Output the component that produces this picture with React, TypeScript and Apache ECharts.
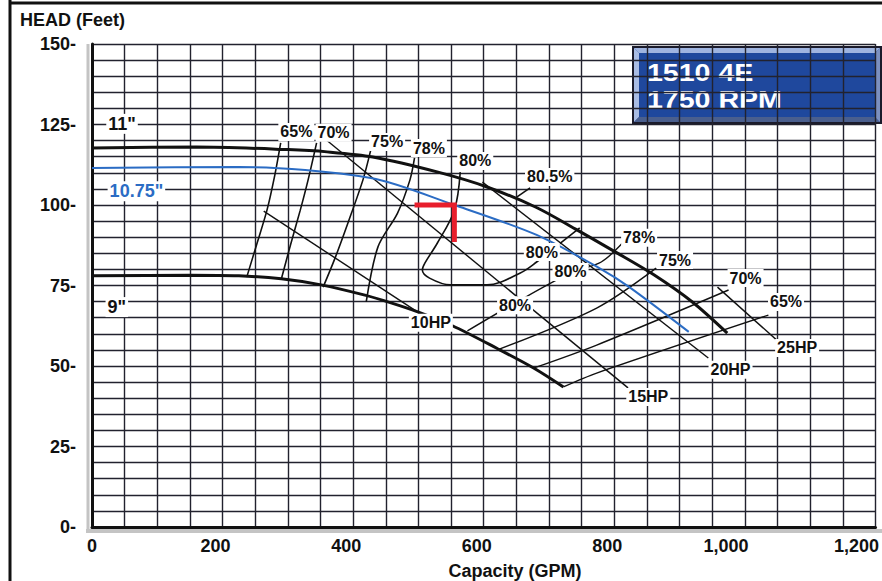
import React, { useEffect, useRef } from "react";
import * as echarts from "echarts";

// ---- data (Capacity GPM, Head ft) ----
const curve11Q = [0, 160, 300, 360, 430, 530, 605, 680, 740, 800, 860, 920, 973];
const curve11H = [117.7, 118, 117.2, 116.5, 114.9, 110.2, 105.6, 99.3, 92.6, 85.6, 78.4, 69.8, 60.2];

const curve1075Q = [0, 225, 427, 555, 681, 777, 823, 914];
const curve1075H = [111.5, 111.8, 108.4, 100, 90.7, 80.4, 74.5, 60.6];

const curve9Q = [0, 150, 225, 290, 351, 418, 458, 499, 552, 620, 677, 722];
const curve9H = [78, 78.2, 78, 77.1, 75.2, 72, 69.6, 66.8, 62.5, 55.5, 49.3, 43.5];

const eff65Q = [289, 280, 268, 252, 237];
const eff65H = [119.3, 109.3, 98.4, 87.6, 77.6];
const eff70Q = [344, 331, 319, 304, 290];
const eff70H = [119.3, 107.8, 98.4, 87.6, 77.0];
const eff75Q = [427, 415, 392, 373, 354];
const eff75H = [117.1, 107.8, 94.4, 83.9, 74.5];
const eff78Q = [494, 487, 468, 438, 420];
const eff78H = [114.6, 107.8, 97.5, 87, 69.9];
const eff80Q = [564, 555, 529, 510, 506, 517, 549, 605, 656, 681, 712, 747];
const eff80H = [110.2, 98.4, 88.2, 82, 79.8, 77.3, 75.2, 75.2, 78.9, 82.3, 87.3, 92.9];
const eff805Q = [651, 671];
const eff805H = [102.5, 105.3];

const effR78Q = [575, 651, 733, 780, 814];
const effR78H = [60.9, 69.9, 78.9, 82.3, 88.5];
const effR75Q = [621, 773, 864];
const effR75H = [55, 68, 80.4];
const effR70Q = [677, 773, 975];
const effR70H = [49.4, 56.5, 73.6];
const effR65Q = [722, 773, 1036];
const effR65H = [43.5, 47.8, 65.8];

const hp10Q = [263, 506];
const hp10H = [98.1, 65.8];
const hp15Q = [359, 821];
const hp15H = [120.2, 43.2];
const hp20Q = [598, 944];
const hp20H = [107.1, 52.5];
const hp25Q = [958, 1054];
const hp25H = [74.5, 57.1];

const dutyQ = [494, 555, 555];
const dutyH = [100, 100, 88.5];

const labelNames = ["65%", "70%", "75%", "78%", "80%", "80.5%", "80%", "80%", "80%", "78%", "75%", "70%", "65%", "10HP", "15HP", "20HP", "25HP", '11"', '10.75"', '9"'];
const labelQ = [313, 370, 452, 516, 587, 701, 689, 733, 648, 838, 893, 1001, 1063, 519, 852, 978, 1080, 46, 68, 38];
const labelH = [122.7, 122.4, 119.6, 117.7, 113.7, 108.7, 85.4, 79.2, 68.9, 89.8, 82.9, 77.3, 69.9, 63.4, 40.4, 48.8, 55.6, 125.2, 104.3, 68.3];

const xTickLabels: Record<number, string> = { 0: "0", 200: "200", 400: "400", 600: "600", 800: "800", 1000: "1,000", 1200: "1,200" };

const BLUE = "#2b6cc4";
const INK = "#111111";
const FONT = "'Liberation Sans', Arial, sans-serif";

const zip = (q: number[], h: number[]) => q.map((v, i) => [v, h[i]]);

const line = (name: string, q: number[], h: number[], width: number, color = INK, smooth: any = 0.3, z = 3) => ({
  type: "line",
  name,
  data: zip(q, h),
  symbol: "none",
  showSymbol: false,
  smooth,
  lineStyle: { width, color },
  z,
  silent: true,
});

export default function App() {
  const ref = useRef<HTMLDivElement>(null);
  useEffect(() => {
    if (!ref.current) return;
    const chart = echarts.init(ref.current, undefined, { renderer: "svg" });
    const gridColor = "#22222e";
    const tick = { fontSize: 18, fontWeight: "bold", color: INK, fontFamily: FONT };
    chart.setOption({
      animation: false,
      backgroundColor: "#ffffff",
      title: {
        text: "HEAD (Feet)",
        left: 20,
        top: 11,
        padding: 0,
        textStyle: { fontSize: 18, fontWeight: "bold", color: INK, fontFamily: FONT },
      },
      grid: { left: 92, top: 44, right: 1, bottom: 54 },
      xAxis: {
        type: "value",
        min: 0,
        max: 1200,
        interval: 200,
        axisLine: { show: true, onZero: false, lineStyle: { color: INK, width: 3 } },
        axisTick: { show: false },
        splitLine: { show: true, lineStyle: { color: gridColor, width: 1.4 } },
        minorTick: { show: false, splitNumber: 4 },
        minorSplitLine: { show: true, lineStyle: { color: gridColor, width: 1.4 } },
        axisLabel: {
          margin: 10,
          showMaxLabel: true,
          showMinLabel: true,
          formatter: (v: number) => {
            const t = xTickLabels[v] ?? String(v);
            if (v === 0) return `{c|${t}}`;
            if (v >= 1000) return `{b|${t}}`;
            return `{a|${t}}`;
          },
          rich: {
            a: { ...tick, padding: [0, 14, 0, 0] },
            b: { ...tick, padding: [0, 38, 0, 0] },
            c: { ...tick, padding: [0, 0, 0, 0] },
          },
        },
      },
      yAxis: {
        type: "value",
        min: 0,
        max: 150,
        interval: 25,
        axisLine: { show: true, onZero: false, lineStyle: { color: INK, width: 3 } },
        axisTick: { show: false },
        splitLine: { show: true, lineStyle: { color: gridColor, width: 1.4 } },
        minorTick: { show: false, splitNumber: 5 },
        minorSplitLine: { show: true, lineStyle: { color: gridColor, width: 1.4 } },
        axisLabel: {
          margin: 16,
          formatter: (v: number) => `${v}-`,
          ...tick,
          padding: [7, 0, 0, 0],
        },
      },
      series: [
        line("11in", curve11Q, curve11H, 3, INK, 0.3, 4),
        line("10.75in", curve1075Q, curve1075H, 2, BLUE, 0.3, 4),
        line("9in", curve9Q, curve9H, 3, INK, 0.3, 4),
        line("e65", eff65Q, eff65H, 1.6, INK, 0.3),
        line("e70", eff70Q, eff70H, 1.6, INK, 0.3),
        line("e75", eff75Q, eff75H, 1.6, INK, 0.3),
        line("e78", eff78Q, eff78H, 1.6, INK, 0.3),
        line("e80", eff80Q, eff80H, 1.6, INK, 0.35),
        line("e805", eff805Q, eff805H, 1.6, INK, false),
        line("r78", effR78Q, effR78H, 1.4, INK, 0.3),
        line("r75", effR75Q, effR75H, 1.4, INK, 0.3),
        line("r70", effR70Q, effR70H, 1.4, INK, 0.3),
        line("r65", effR65Q, effR65H, 1.4, INK, 0.3),
        line("hp10", hp10Q, hp10H, 1.4, INK, false),
        line("hp15", hp15Q, hp15H, 1.4, INK, false),
        line("hp20", hp20Q, hp20H, 1.4, INK, false),
        line("hp25", hp25Q, hp25H, 1.4, INK, false),
        {
          type: "line",
          name: "duty",
          data: zip(dutyQ, dutyH),
          symbol: "none",
          lineStyle: { width: 5, color: "#e81e2c", cap: "butt", join: "miter" },
          z: 6,
          silent: true,
        },
        {
          type: "scatter",
          name: "labels",
          symbol: "circle",
          symbolSize: 0,
          itemStyle: { color: "#000000", opacity: 0 },
          silent: true,
          z: 8,
          data: labelNames.map((n, i) => ({
            name: n,
            value: [labelQ[i], labelH[i]],
            label:
              n === '10.75"'
                ? { color: BLUE, fontSize: 18 }
                : n === '11"' || n === '9"'
                ? { fontSize: 18 }
                : undefined,
          })),
          label: {
            show: true,
            position: "inside",
            formatter: "{b}",
            fontSize: 16,
            fontWeight: "bold",
            color: INK,
            opacity: 1,
            fontFamily: FONT,
            textBorderWidth: 0,
            textBorderColor: "transparent",
            backgroundColor: "#ffffff",
            padding: [1, 2, 1, 2],
          },
        },
      ],
      graphic: [
        { type: "line", shape: { x1: 10, y1: 0, x2: 10, y2: 581 }, style: { stroke: INK, lineWidth: 3 } },
        { type: "line", shape: { x1: 10, y1: 3, x2: 882, y2: 3 }, style: { stroke: INK, lineWidth: 3 } },
        { type: "line", shape: { x1: 88, y1: 44, x2: 88, y2: 532 }, style: { stroke: "#c4c4c4", lineWidth: 3 } },
        { type: "line", shape: { x1: 86, y1: 531, x2: 882, y2: 531 }, style: { stroke: "#c4c4c4", lineWidth: 4 } },
        {
          type: "group",
          z: 20,
          children: [
            { type: "rect", shape: { x: 633, y: 47, width: 248, height: 76 }, style: { fill: "#1f489d", stroke: "#1b1b2b", lineWidth: 2 } },
            { type: "polygon", shape: { points: [[634, 48], [880, 48], [875, 53], [639, 53]] }, style: { fill: "#9fb4e0" } },
            { type: "polygon", shape: { points: [[634, 48], [639, 53], [639, 117], [634, 122]] }, style: { fill: "#a9bce4" } },
            { type: "polygon", shape: { points: [[634, 122], [639, 117], [875, 117], [880, 122]] }, style: { fill: "#4a5f8e" } },
            { type: "polygon", shape: { points: [[880, 48], [880, 122], [875, 117], [875, 53]] }, style: { fill: "#7c90c0" } },
            {
              type: "text",
              x: 647,
              y: 73,
              scaleX: 1.19,
              style: { text: "1510 4E", fill: "#ffffff", fontSize: 24, fontWeight: "bold", fontFamily: FONT, verticalAlign: "middle" },
            },
            {
              type: "text",
              x: 647,
              y: 100,
              scaleX: 1.19,
              style: { text: "1750 RPM", fill: "#ffffff", fontSize: 24, fontWeight: "bold", fontFamily: FONT, verticalAlign: "middle" },
            },
          ],
        },
        {
          type: "text",
          x: 515,
          y: 571,
          style: { text: "Capacity (GPM)", fill: INK, fontSize: 18, fontWeight: "bold", fontFamily: FONT, align: "center", verticalAlign: "middle" },
        },
      ],
    });
    return () => chart.dispose();
  }, []);
  return <div ref={ref} style={{ position: "fixed", left: 0, top: 0, width: 882, height: 581, background: "#fff" }} />;
}
